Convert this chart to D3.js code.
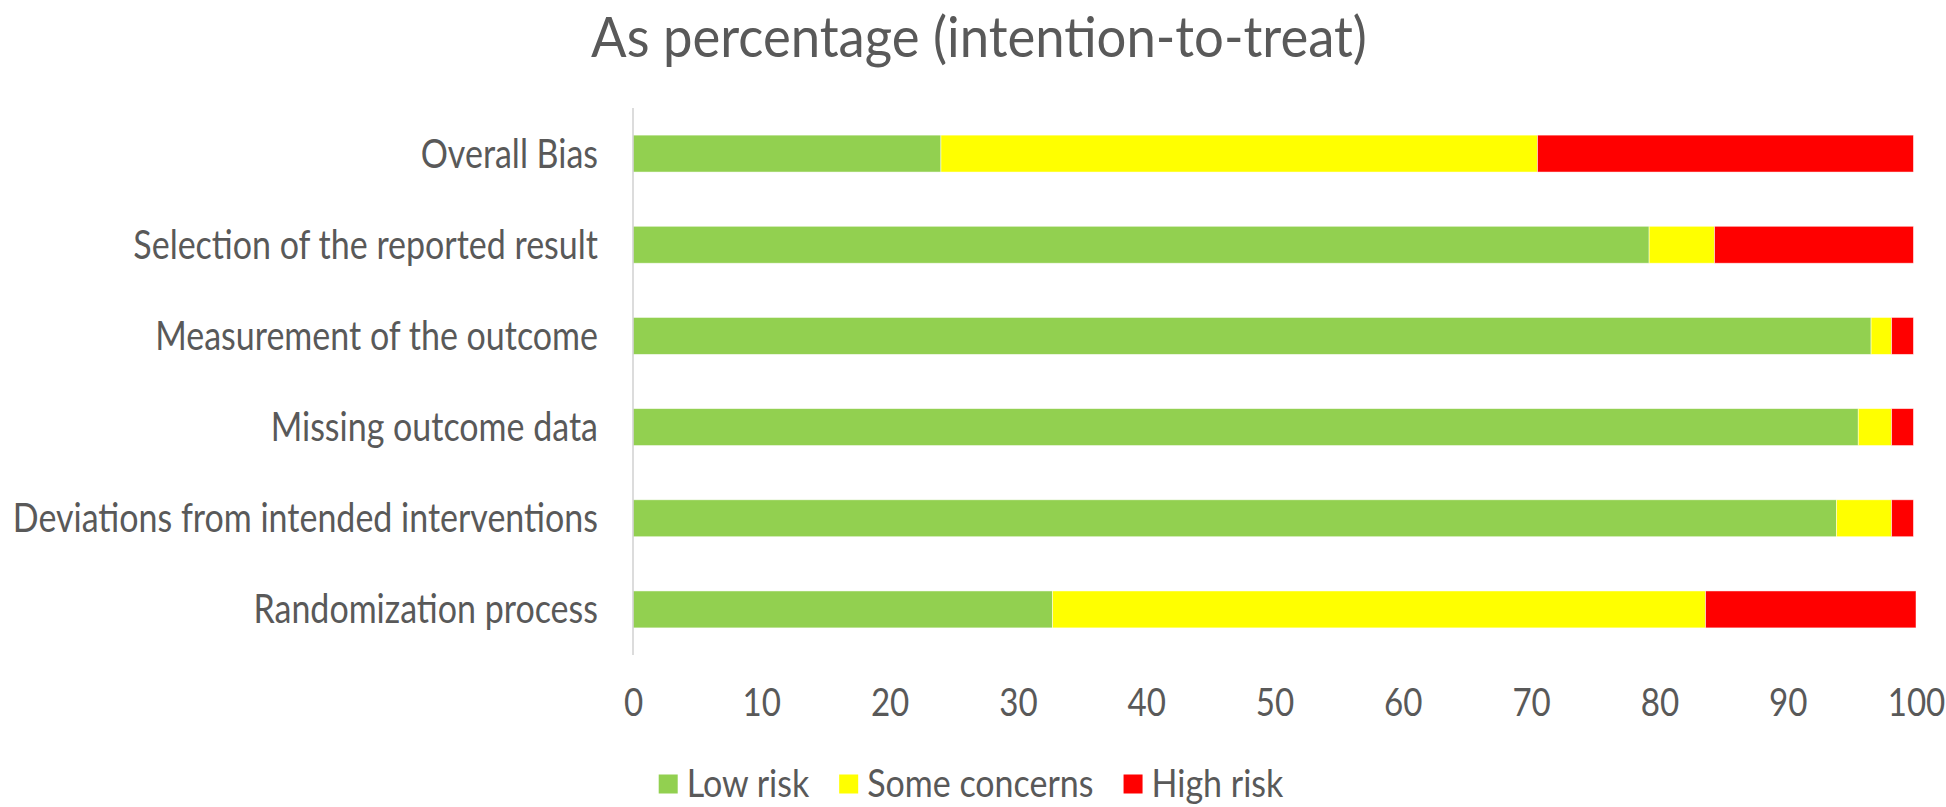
<!DOCTYPE html>
<html>
<head>
<meta charset="utf-8">
<script src="https://cdn.jsdelivr.net/npm/d3@7"></script>
<style>
  html, body { margin: 0; padding: 0; background: #fff; }
  svg { display: block; }
  text { font-family: Lato, "Open Sans", sans-serif; fill: #595959; }
</style>
</head>
<body>
<svg id="chart" width="1946" height="807"></svg>
<script>
// ---- data ----
const categories = [
  "Overall Bias",
  "Selection of the reported result",
  "Measurement of the outcome",
  "Missing outcome data",
  "Deviations from intended interventions",
  "Randomization process"
];
const seriesNames = ["Low risk", "Some concerns", "High risk"];
const lowRisk      = [24.0, 79.2, 96.5, 95.5, 93.8, 32.7];
const someConcerns = [46.5,  5.1,  1.6,  2.6,  4.3, 50.9];
const highRisk     = [29.3, 15.5,  1.7,  1.7,  1.7, 16.4];
const xTickValues  = [0, 10, 20, 30, 40, 50, 60, 70, 80, 90, 100];
const titleText = "As percentage (intention-to-treat)";

// ---- layout ----
const W = 1946, H = 807;
const plot = { left: 633, right: 1916, top: 108, bottom: 655 };
const colors = ["#92D050", "#FFFF00", "#FF0000"];
const sx = 0.85; // horizontal text compression (narrow face)

const svg = d3.select("#chart");

const rows = categories.map((c, i) => ({
  category: c,
  [seriesNames[0]]: lowRisk[i],
  [seriesNames[1]]: someConcerns[i],
  [seriesNames[2]]: highRisk[i]
}));
const stacked = d3.stack().keys(seriesNames)(rows);

const x = d3.scaleLinear().domain([0, 100]).range([plot.left, plot.right]);
const y = d3.scaleBand().domain(categories)
  .range([plot.top, plot.bottom])
  .paddingInner(0.595).paddingOuter(0.2975);
const color = d3.scaleOrdinal().domain(seriesNames).range(colors);

// title
svg.append("text")
  .attr("transform", `translate(${W / 2 + 6},57) scale(0.94,1)`)
  .attr("text-anchor", "middle")
  .style("font-size", "56px")
  .text(titleText);

// bars
svg.append("g").selectAll("g")
  .data(stacked)
  .join("g")
  .attr("fill", d => color(d.key))
  .selectAll("rect")
  .data(d => d)
  .join("rect")
  .attr("x", d => x(d[0]))
  .attr("y", d => y(d.data.category))
  .attr("width", d => x(d[1]) - x(d[0]))
  .attr("height", y.bandwidth())
  .attr("stroke", "#ffffff")
  .attr("stroke-opacity", 0.6)
  .attr("stroke-width", 0.8);

// vertical category axis line
svg.append("line")
  .attr("x1", plot.left).attr("x2", plot.left)
  .attr("y1", plot.top).attr("y2", plot.bottom)
  .attr("stroke", "#d0d0d0").attr("stroke-width", 1.5);

// category labels
svg.append("g").selectAll("text")
  .data(categories)
  .join("text")
  .attr("transform", d => `translate(${plot.left - 35},${y(d) + y.bandwidth() / 2}) scale(${sx},1)`)
  .attr("text-anchor", "end")
  .attr("dy", "0.35em")
  .style("font-size", "40px")
  .text(d => d);

// x axis labels
const xAxis = d3.axisBottom(x).tickValues(xTickValues).tickSize(0).tickPadding(33);
const gx = svg.append("g").attr("transform", `translate(0,${plot.bottom})`).call(xAxis);
gx.select(".domain").remove();
gx.selectAll("text")
  .attr("fill", "#595959")
  .style("font-family", "Lato, 'Open Sans', sans-serif")
  .style("font-size", "39px")
  .attr("transform", `scale(${sx},1)`);

// legend
const legend = svg.append("g");
let cursor = 0;
const sq = 19, gap = 9, itemGap = 30;
const lsx = 0.895;
seriesNames.forEach((name) => {
  const g = legend.append("g");
  g.append("rect").attr("x", 0).attr("y", -sq / 2).attr("width", sq).attr("height", sq)
    .attr("fill", color(name));
  const t = g.append("text")
    .attr("transform", `translate(${sq + gap},0) scale(${lsx},1)`)
    .attr("dy", "0.35em")
    .style("font-size", "38px")
    .text(name);
  const w = t.node().getComputedTextLength() * lsx;
  g.attr("transform", `translate(${cursor},0)`);
  cursor += sq + gap + w + itemGap;
});
const legendWidth = cursor - itemGap;
legend.attr("transform", `translate(${W / 2 - legendWidth / 2 - 2},784)`);
</script>
</body>
</html>
